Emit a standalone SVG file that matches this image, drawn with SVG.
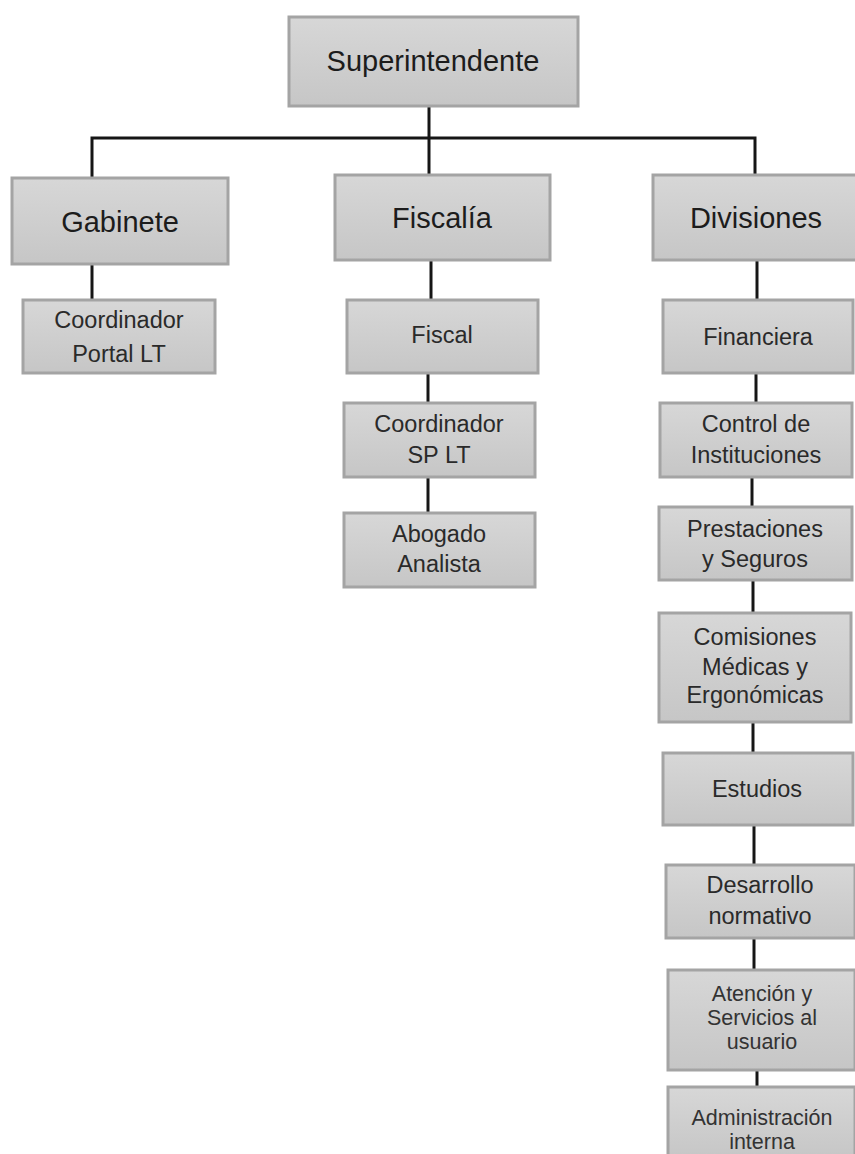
<svg xmlns="http://www.w3.org/2000/svg" width="855" height="1154" viewBox="0 0 855 1154">
<defs>
<linearGradient id="g" x1="0" y1="0" x2="0" y2="1">
<stop offset="0" stop-color="#d7d7d7"/>
<stop offset="1" stop-color="#c6c6c6"/>
</linearGradient>
<style>
.box{fill:url(#g);stroke:#a4a4a4;stroke-width:3}
.t{font-family:"Liberation Sans",Arial,sans-serif;fill:#1c1c1c;text-anchor:middle}
.big{font-size:29px}
.mid{font-size:23.5px;fill:#2a2a2a}
.sm{font-size:21.5px;fill:#333}
.c{stroke:#161616;stroke-width:3;fill:none}
</style>
</defs>
<rect width="855" height="1154" fill="#ffffff"/>
<g id="connectors">
<path class="c" d="M429 106V175"/>
<path class="c" d="M92 178V138H755V175"/>
<path class="c" d="M92 264V300"/>
<path class="c" d="M431 260V300"/>
<path class="c" d="M428 373V403"/>
<path class="c" d="M428 477V513"/>
<path class="c" d="M757 260V300"/>
<path class="c" d="M756 373V403"/>
<path class="c" d="M752 477V507"/>
<path class="c" d="M753 580V613"/>
<path class="c" d="M753 722V753"/>
<path class="c" d="M754 825V865"/>
<path class="c" d="M754 938V970"/>
<path class="c" d="M757 1070V1087"/>
</g>
<g id="superintendente"><rect class="box" x="289" y="17" width="289" height="89"/><text class="t big" x="433" y="71">Superintendente</text></g>
<g id="gabinete"><rect class="box" x="12" y="178" width="216" height="86"/><text class="t big" x="120" y="232">Gabinete</text></g>
<g id="fiscalia"><rect class="box" x="335" y="175" width="215" height="85"/><text class="t big" x="442" y="228">Fiscalía</text></g>
<g id="divisiones"><rect class="box" x="653" y="175" width="205" height="85"/><text class="t big" x="756" y="228">Divisiones</text></g>
<g id="coord-portal"><rect class="box" x="23" y="300" width="192" height="73"/><text class="t mid" x="119" y="328">Coordinador</text><text class="t mid" x="119" y="362">Portal LT</text></g>
<g id="fiscal"><rect class="box" x="347" y="300" width="191" height="73"/><text class="t mid" x="442" y="343">Fiscal</text></g>
<g id="coord-sp"><rect class="box" x="344" y="403" width="191" height="74"/><text class="t mid" x="439" y="432">Coordinador</text><text class="t mid" x="439" y="463">SP LT</text></g>
<g id="abogado"><rect class="box" x="344" y="513" width="191" height="74"/><text class="t mid" x="439" y="542">Abogado</text><text class="t mid" x="439" y="572">Analista</text></g>
<g id="financiera"><rect class="box" x="663" y="300" width="190" height="73"/><text class="t mid" x="758" y="345">Financiera</text></g>
<g id="control"><rect class="box" x="660" y="403" width="192" height="74"/><text class="t mid" x="756" y="432">Control de</text><text class="t mid" x="756" y="463">Instituciones</text></g>
<g id="prestaciones"><rect class="box" x="659" y="507" width="193" height="73"/><text class="t mid" x="755" y="537">Prestaciones</text><text class="t mid" x="755" y="567">y Seguros</text></g>
<g id="comisiones"><rect class="box" x="659" y="613" width="192" height="109"/><text class="t mid" x="755" y="645">Comisiones</text><text class="t mid" x="755" y="675">Médicas y</text><text class="t mid" x="755" y="703">Ergonómicas</text></g>
<g id="estudios"><rect class="box" x="663" y="753" width="190" height="72"/><text class="t mid" x="757" y="797">Estudios</text></g>
<g id="desarrollo"><rect class="box" x="666" y="865" width="189" height="73"/><text class="t mid" x="760" y="893">Desarrollo</text><text class="t mid" x="760" y="924">normativo</text></g>
<g id="atencion"><rect class="box" x="668" y="970" width="187" height="100"/><text class="t sm" x="762" y="1001">Atención y</text><text class="t sm" x="762" y="1025">Servicios al</text><text class="t sm" x="762" y="1049">usuario</text></g>
<g id="administracion"><rect class="box" x="668" y="1087" width="187" height="72"/><text class="t sm" x="762" y="1125">Administración</text><text class="t sm" x="762" y="1149">interna</text></g>
</svg>
